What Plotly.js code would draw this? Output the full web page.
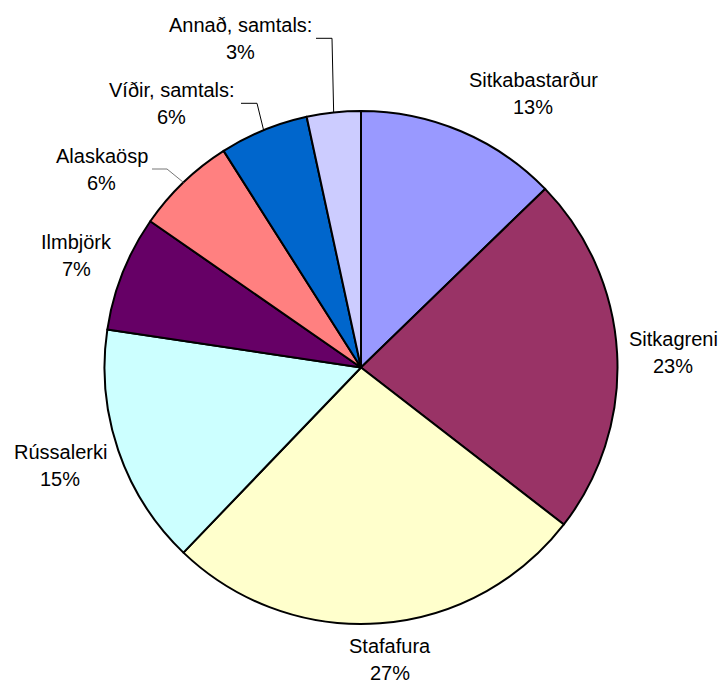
<!DOCTYPE html>
<html>
<head>
<meta charset="utf-8">
<script src="https://cdn.plot.ly/plotly-3.0.1.min.js"></script>
<style>html,body{margin:0;padding:0;background:#fff;}#chart{width:722px;height:686px;}</style>
</head>
<body>
<div id="chart"></div>
<script>
const labels = ['Sitkabastarður', 'Sitkagreni', 'Stafafura', 'Rússalerki', 'Ilmbjörk', 'Alaskaösp', 'Víðir, samtals:', 'Annað, samtals:'];
const values = [12.75, 22.75, 26.7, 15.2, 7.3, 6.35, 5.6, 3.4];
const colors = ['#9999FF', '#993366', '#FFFFCC', '#CCFFFF', '#660066', '#FF8080', '#0066CC', '#CCCCFF'];

// layout (pixel) settings
const W = 722, H = 686;
const M = {l: 104, r: 104, t: 111, b: 62};
const plotW = W - M.l - M.r, plotH = H - M.t - M.b;
const R = Math.min(plotW, plotH) / 2;
const cx = M.l + plotW / 2, cy = M.t + plotH / 2;
const labelCenters = [[533, 93.5], [673, 352], [390, 659], [60, 465.5], [76, 255.5], [101.5, 169], [171.5, 103.5], [240, 38]];
const halfGap = 13.5;
const leaderStarts = {5: [[152, 169], [167, 169]], 6: [[241, 103.3], [257, 103.3]], 7: [[316, 38.3], [332, 38.3]]};
const fontSpec = {family: 'Liberation Sans, Arial, sans-serif', size: 20, color: '#000'};

const px2x = p => (p - M.l) / plotW;
const py2y = p => (H - M.b - p) / plotH;

const total = values.reduce((a, b) => a + b, 0);
let cum = 0;
const annotations = [];
const shapes = [];
values.forEach((v, i) => {
  const pct = v / total;
  const mid = (cum + pct / 2) * 2 * Math.PI;
  cum += pct;
  const [lx, ly] = labelCenters[i];
  [[labels[i], ly - halfGap], [Math.round(pct * 100) + '%', ly + halfGap]].forEach(([t, yy]) => {
    annotations.push({
      xref: 'paper', yref: 'paper', x: px2x(lx), y: py2y(yy),
      xanchor: 'center', yanchor: 'middle', showarrow: false, align: 'center',
      text: t, font: fontSpec
    });
  });
  if (leaderStarts[i]) {
    const ex = cx + R * Math.sin(mid), ey = cy - R * Math.cos(mid);
    const pts = leaderStarts[i].concat([[ex, ey]]);
    const path = pts.map((p, k) => (k ? 'L' : 'M') + px2x(p[0]) + ',' + py2y(p[1])).join(' ');
    shapes.push({type: 'path', xref: 'paper', yref: 'paper', path: path,
      line: {color: i === 5 ? '#777' : '#000', width: 1}});
  }
});

const data = [{
  type: 'pie',
  labels: labels,
  values: values,
  sort: false,
  direction: 'clockwise',
  rotation: 0,
  textinfo: 'none',
  hoverinfo: 'label+percent',
  showlegend: false,
  marker: {colors: colors, line: {color: '#000', width: 2}}
}];

const layout = {
  width: W, height: H,
  margin: M,
  paper_bgcolor: '#fff', plot_bgcolor: '#fff',
  showlegend: false,
  annotations: annotations,
  shapes: shapes
};

Plotly.newPlot('chart', data, layout, {displayModeBar: false, staticPlot: true});
</script>
</body>
</html>
